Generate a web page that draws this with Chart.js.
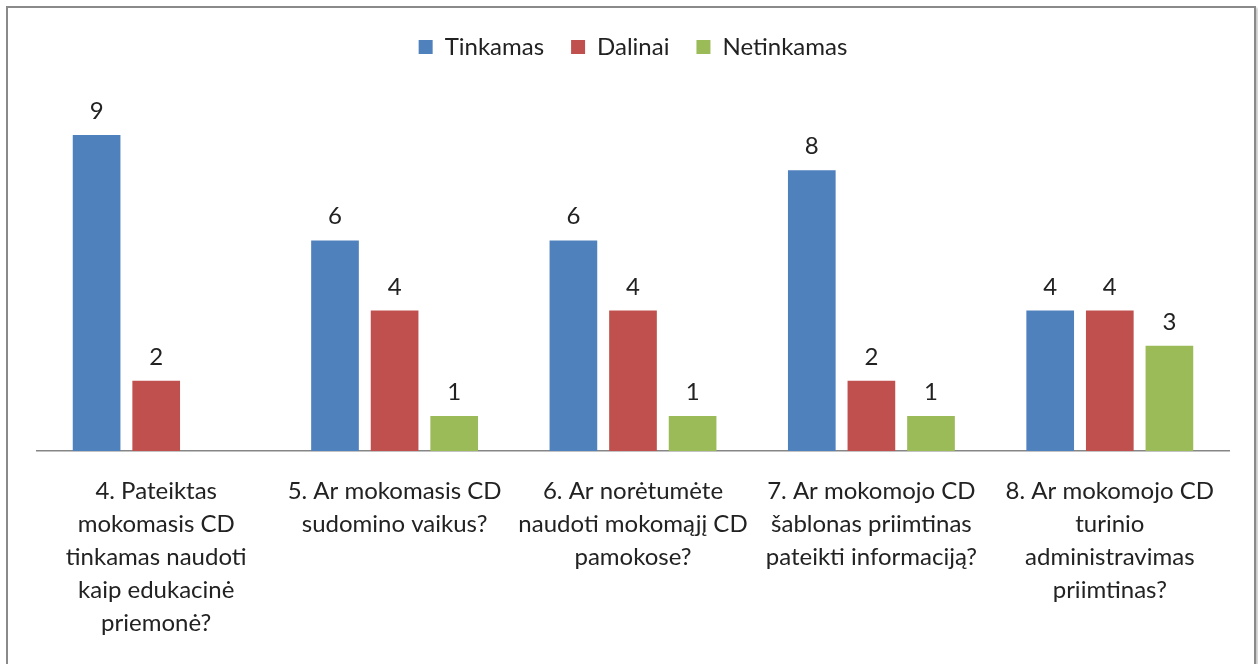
<!DOCTYPE html>
<html>
<head>
<meta charset="utf-8">
<script src="https://cdn.jsdelivr.net/npm/chart.js@4/dist/chart.umd.min.js"></script>
<style>
  html, body { margin: 0; padding: 0; background: #fff; }
  #wrap { position: relative; width: 1258px; height: 664px; overflow: hidden; }
  #frame {
    position: absolute; left: 6px; top: 6px; width: 1246px; height: 700px;
    border: 2px solid #8a8a8a; box-shadow: 2px 2px 2px #c8c8c8; pointer-events: none;
  }
</style>
</head>
<body>
<div id="wrap">
  <canvas id="chart" width="1258" height="664"></canvas>
  <div id="frame"></div>
</div>
<script>
// categories (already split into lines like the original)
let categories = [
    ["4. Pateiktas", "mokomasis CD", "tinkamas naudoti", "kaip edukacinė", "priemonė?"],
    ["5. Ar mokomasis CD", "sudomino vaikus?"],
    ["6. Ar norėtumėte", "naudoti mokomąjį CD", "pamokose?"],
    ["7. Ar mokomojo CD", "šablonas priimtinas", "pateikti informaciją?"],
    ["8. Ar mokomojo CD", "turinio", "administravimas", "priimtinas?"]
];

let seriesNames = ["Tinkamas", "Dalinai", "Netinkamas"];
let tinkamas = [9, 6, 6, 8, 4];
let dalinai = [2, 4, 4, 2, 4];
let netinkamas = [null, 1, 1, 1, 3];
let colors = ["#4F81BD", "#C0504D", "#9BBB59"];

const FONT = "Lato, 'Open Sans', sans-serif";

// draws the value above each bar
const valueLabels = {
    id: 'valueLabels',
    afterDatasetsDraw(chart) {
        let ctx = chart.ctx;
        ctx.save();
        ctx.font = "24px " + FONT;
        ctx.fillStyle = "#222";
        ctx.textAlign = "center";
        ctx.textBaseline = "alphabetic";
        chart.data.datasets.forEach((ds, i) => {
            chart.getDatasetMeta(i).data.forEach((bar, j) => {
                if (ds.data[j] == null) return;
                ctx.fillText(ds.data[j], bar.x, bar.y - 16);
            });
        });
        ctx.restore();
    }
};

// extra room under the legend
const legendSpace = {
    id: 'legendSpace',
    beforeInit(chart) {
        const origFit = chart.legend.fit;
        chart.legend.fit = function fit() {
            origFit.bind(chart.legend)();
            this.height += 31;
        };
    }
};

let chart = new Chart(document.getElementById('chart').getContext('2d'), {
    type: 'bar',
    data: {
        labels: categories,
        datasets: [
            { label: seriesNames[0], data: tinkamas, backgroundColor: colors[0] },
            { label: seriesNames[1], data: dalinai, backgroundColor: colors[1] },
            { label: seriesNames[2], data: netinkamas, backgroundColor: colors[2] }
        ]
    },
    options: {
        responsive: false,
        animation: false,
        categoryPercentage: 0.75,
        barPercentage: 0.8,
        layout: { padding: { left: 37, right: 29, top: 8, bottom: 0 } },
        plugins: {
            legend: {
                position: 'top',
                labels: {
                    boxWidth: 14,
                    boxHeight: 14,
                    padding: 27,
                    color: "#222",
                    font: { family: FONT, size: 24 }
                }
            },
            tooltip: { enabled: false }
        },
        scales: {
            x: {
                grid: { display: false, drawTicks: false },
                border: { display: true, color: "#868686", width: 1.5 },
                ticks: {
                    color: "#222",
                    maxRotation: 0,
                    padding: 24,
                    font: { family: FONT, size: 24, lineHeight: 1.375 }
                }
            },
            y: {
                display: false,
                min: 0,
                max: 10
            }
        }
    },
    plugins: [valueLabels, legendSpace]
});
</script>
</body>
</html>
